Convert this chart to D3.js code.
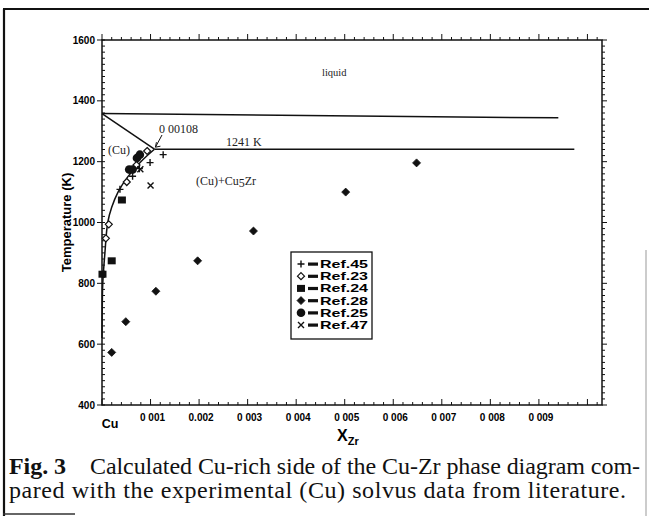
<!DOCTYPE html>
<html>
<head>
<meta charset="utf-8">
<script src="https://cdn.jsdelivr.net/npm/d3@7"></script>
<style>
  body { margin: 0; background: #fff; }
  svg { display: block; }
  .tick-lbl { font-family: "Liberation Sans", Arial, sans-serif; font-weight: bold; font-size: 10px; }
  .serif { font-family: "Liberation Serif", "Times New Roman", serif; }
</style>
</head>
<body>
<svg id="chart"></svg>
<script>
// ---- data ----
const xTicks = [0, 0.001, 0.002, 0.003, 0.004, 0.005, 0.006, 0.007, 0.008, 0.009];
const xTickLabels = ["Cu", "0 001", "0.002", "0 003", "0 004", "0 005", "0 006", "0 007", "0 008", "0 009"];
const yTicks = [400, 600, 800, 1000, 1200, 1400, 1600];

// calculated phase boundaries
const liquidusLine = [[0, 1358], [0.0094, 1344]];
const eutecticLine = [[0.00108, 1241], [0.00973, 1241]];
const solidusLine = [[0, 1358], [0.00108, 1241]];
const solvusCurve = [[0.00108, 1241], [0.00080, 1200], [0.00053, 1150], [0.00033, 1100],
                     [0.00020, 1050], [0.000118, 1000], [0.00006, 900], [0.000016, 800],
                     [0.000004, 700], [0, 620]];

// experimental solvus data
const ref45 = [[0.00037, 1109], [0.00063, 1152], [0.00077, 1177], [0.00099, 1197], [0.00126, 1223]];
const ref23 = [[0.00008, 948], [0.00014, 994], [0.00051, 1133], [0.00071, 1189], [0.00093, 1235]];
const ref24 = [[0.00001, 830], [0.0002, 874], [0.00041, 1074]];
const ref28 = [[0.0002, 573], [0.00049, 674], [0.00111, 774], [0.00197, 874], [0.00312, 972], [0.00502, 1100], [0.00648, 1196]];
const ref25 = [[0.00056, 1174], [0.00063, 1174], [0.00072, 1212], [0.00078, 1223]];
const ref47 = [[0.00079, 1175], [0.001, 1122]];

const legendNames = ["Ref.45", "Ref.23", "Ref.24", "Ref.28", "Ref.25", "Ref.47"];

const W = 649, H = 516;
const svg = d3.select("#chart").attr("width", W).attr("height", H);

// outer frame of the scanned figure
svg.append("line").attr("x1", 4).attr("y1", 9).attr("x2", 4).attr("y2", H).attr("stroke", "#111").attr("stroke-width", 2.2);
svg.append("line").attr("x1", 3).attr("y1", 9).attr("x2", W).attr("y2", 9).attr("stroke", "#111").attr("stroke-width", 2.2);
svg.append("line").attr("x1", 646).attr("y1", 250).attr("x2", 646).attr("y2", H).attr("stroke", "#999").attr("stroke-width", 1);
svg.append("line").attr("x1", 3).attr("y1", 514).attr("x2", 75).attr("y2", 514).attr("stroke", "#333").attr("stroke-width", 1.5);

const x = d3.scaleLinear().domain([0, 0.0103]).range([102, 602]);
const y = d3.scaleLinear().domain([400, 1600]).range([405, 40]);

const g = svg.append("g");

// plot frame
g.append("rect").attr("x", x(0)).attr("y", y(1600))
  .attr("width", x(0.0103) - x(0)).attr("height", y(400) - y(1600))
  .attr("fill", "none").attr("stroke", "#111").attr("stroke-width", 1.5);

// minor / major ticks
const xMinor = d3.range(0, 0.01031, 0.0002);
const yMinor = d3.range(400, 1601, 20);
const tk = g.append("g").attr("stroke", "#111").attr("stroke-width", 1);
xMinor.forEach((v, i) => {
  const major = i % 5 === 0;
  const len = major ? 6 : 3;
  tk.append("line").attr("x1", x(v)).attr("x2", x(v)).attr("y1", y(400)).attr("y2", y(400) - len);
  tk.append("line").attr("x1", x(v)).attr("x2", x(v)).attr("y1", y(1600)).attr("y2", y(1600) - len);
});
yMinor.forEach((v, i) => {
  const major = i % 10 === 0;
  tk.append("line").attr("x1", x(0)).attr("x2", x(0) + 3).attr("y1", y(v)).attr("y2", y(v));
  if (major) tk.append("line").attr("x1", x(0) - 5).attr("x2", x(0)).attr("y1", y(v)).attr("y2", y(v));
  tk.append("line").attr("x1", x(0.0103)).attr("x2", x(0.0103) + (major ? 5 : 3)).attr("y1", y(v)).attr("y2", y(v));
});

// tick labels
g.selectAll(".ylbl").data(yTicks).join("text")
  .attr("class", "tick-lbl ylbl")
  .attr("x", x(0) - 7).attr("y", d => y(d) + 3.5)
  .attr("text-anchor", "end").text(d => d);

g.selectAll(".xlbl").data(xTicks).join("text")
  .attr("class", "tick-lbl xlbl")
  .attr("x", (d, i) => i === 0 ? x(d) + 8 : x(d) + 2)
  .attr("y", (d, i) => i === 0 ? 428 : 421)
  .attr("text-anchor", "middle")
  .style("font-size", (d, i) => i === 0 ? "12.5px" : "10px")
  .text((d, i) => xTickLabels[i]);

// axis titles
g.append("text").attr("class", "tick-lbl")
  .attr("transform", `translate(71,${y(1000)}) rotate(-90)`)
  .attr("text-anchor", "middle").style("font-size", "13px")
  .text("Temperature (K)");

const xt = g.append("text").attr("class", "tick-lbl").attr("x", 337).attr("y", 441).style("font-size", "16px");
xt.append("tspan").text("X");
xt.append("tspan").attr("dy", 4).style("font-size", "11px").text("Zr");

// phase boundaries
const line = d3.line().x(d => x(d[0])).y(d => y(d[1]));
[liquidusLine, eutecticLine, solidusLine].forEach(d => {
  g.append("path").attr("d", line(d)).attr("fill", "none").attr("stroke", "#111").attr("stroke-width", 1.5);
});
g.append("path").attr("d", line.curve(d3.curveCatmullRom)(solvusCurve))
  .attr("fill", "none").attr("stroke", "#111").attr("stroke-width", 1.5);

// annotations
const ann = g.append("g").attr("class", "serif").attr("fill", "#222").style("font-size", "12px");
ann.append("text").attr("x", 322).attr("y", 76).style("font-size", "10.5px").text("liquid");
ann.append("text").attr("x", 159).attr("y", 133).text("0 00108");
ann.append("text").attr("x", 226).attr("y", 146).text("1241 K");
ann.append("text").attr("x", 108).attr("y", 154).text("(Cu)");
const cu5 = ann.append("text").attr("x", 196).attr("y", 185);
cu5.append("tspan").text("(Cu)+Cu");
cu5.append("tspan").attr("dy", 2).text("5");
cu5.append("tspan").attr("dy", -2).text("Zr");
// arrow to eutectic point
const ax0 = 162, ay0 = 135, ax1 = x(0.00108) + 1, ay1 = y(1241) - 2;
g.append("line").attr("x1", ax0).attr("y1", ay0).attr("x2", ax1).attr("y2", ay1).attr("stroke", "#111").attr("stroke-width", 1);
g.append("path").attr("d", `M${ax1},${ay1} l1,-5 M${ax1},${ay1} l5,-1`).attr("stroke", "#111").attr("stroke-width", 1).attr("fill", "none");

// symbol drawers
const sym = {
  "Ref.45": (s, cx, cy) => s.append("path").attr("d", `M${cx - 3.5},${cy}h7M${cx},${cy - 3.5}v7`).attr("stroke", "#111").attr("stroke-width", 1.4),
  "Ref.23": (s, cx, cy) => s.append("path").attr("d", `M${cx},${cy - 3.5}L${cx + 3.5},${cy}L${cx},${cy + 3.5}L${cx - 3.5},${cy}Z`).attr("fill", "#fff").attr("stroke", "#111").attr("stroke-width", 1.2),
  "Ref.24": (s, cx, cy) => s.append("rect").attr("x", cx - 4).attr("y", cy - 3.5).attr("width", 8).attr("height", 7).attr("fill", "#111"),
  "Ref.28": (s, cx, cy) => s.append("path").attr("d", `M${cx},${cy - 4}L${cx + 4},${cy}L${cx},${cy + 4}L${cx - 4},${cy}Z`).attr("fill", "#111").attr("stroke", "#111").attr("stroke-width", 0.8),
  "Ref.25": (s, cx, cy) => s.append("circle").attr("cx", cx).attr("cy", cy).attr("r", 4.3).attr("fill", "#111"),
  "Ref.47": (s, cx, cy) => s.append("path").attr("d", `M${cx - 3},${cy - 3}L${cx + 3},${cy + 3}M${cx - 3},${cy + 3}L${cx + 3},${cy - 3}`).attr("stroke", "#111").attr("stroke-width", 1.4)
};

const series = [ref45, ref23, ref24, ref28, ref25, ref47];
const pts = g.append("g");
series.forEach((data, i) => {
  data.forEach(d => sym[legendNames[i]](pts, x(d[0]), y(d[1])));
});

// legend
const lg = g.append("g");
lg.append("rect").attr("x", 291).attr("y", 252).attr("width", 81).attr("height", 87)
  .attr("fill", "#fff").attr("stroke", "#111").attr("stroke-width", 1.3);
legendNames.forEach((name, i) => {
  const ly = 264 + i * 12.2;
  sym[name](lg, 301, ly);
  lg.append("rect").attr("x", 308).attr("y", ly - 1.5).attr("width", 10).attr("height", 3.2).attr("fill", "#111");
  lg.append("text").attr("class", "tick-lbl").attr("x", 320).attr("y", ly + 4)
    .attr("textLength", 48).attr("lengthAdjust", "spacingAndGlyphs")
    .style("font-size", "10.5px").text(name);
});

// caption
const cap = svg.append("g").attr("class", "serif").attr("fill", "#111").style("font-size", "24px");
const c1 = cap.append("text").attr("x", 9).attr("y", 474).attr("textLength", 631).attr("lengthAdjust", "spacing");
c1.append("tspan").style("font-weight", "bold").text("Fig. 3");
c1.append("tspan").text("\u2003Calculated Cu-rich side of the Cu-Zr phase diagram com-");
cap.append("text").attr("x", 9).attr("y", 498).attr("textLength", 617).attr("lengthAdjust", "spacing")
  .text("pared with the experimental (Cu) solvus data from literature.");
</script>
</body>
</html>
